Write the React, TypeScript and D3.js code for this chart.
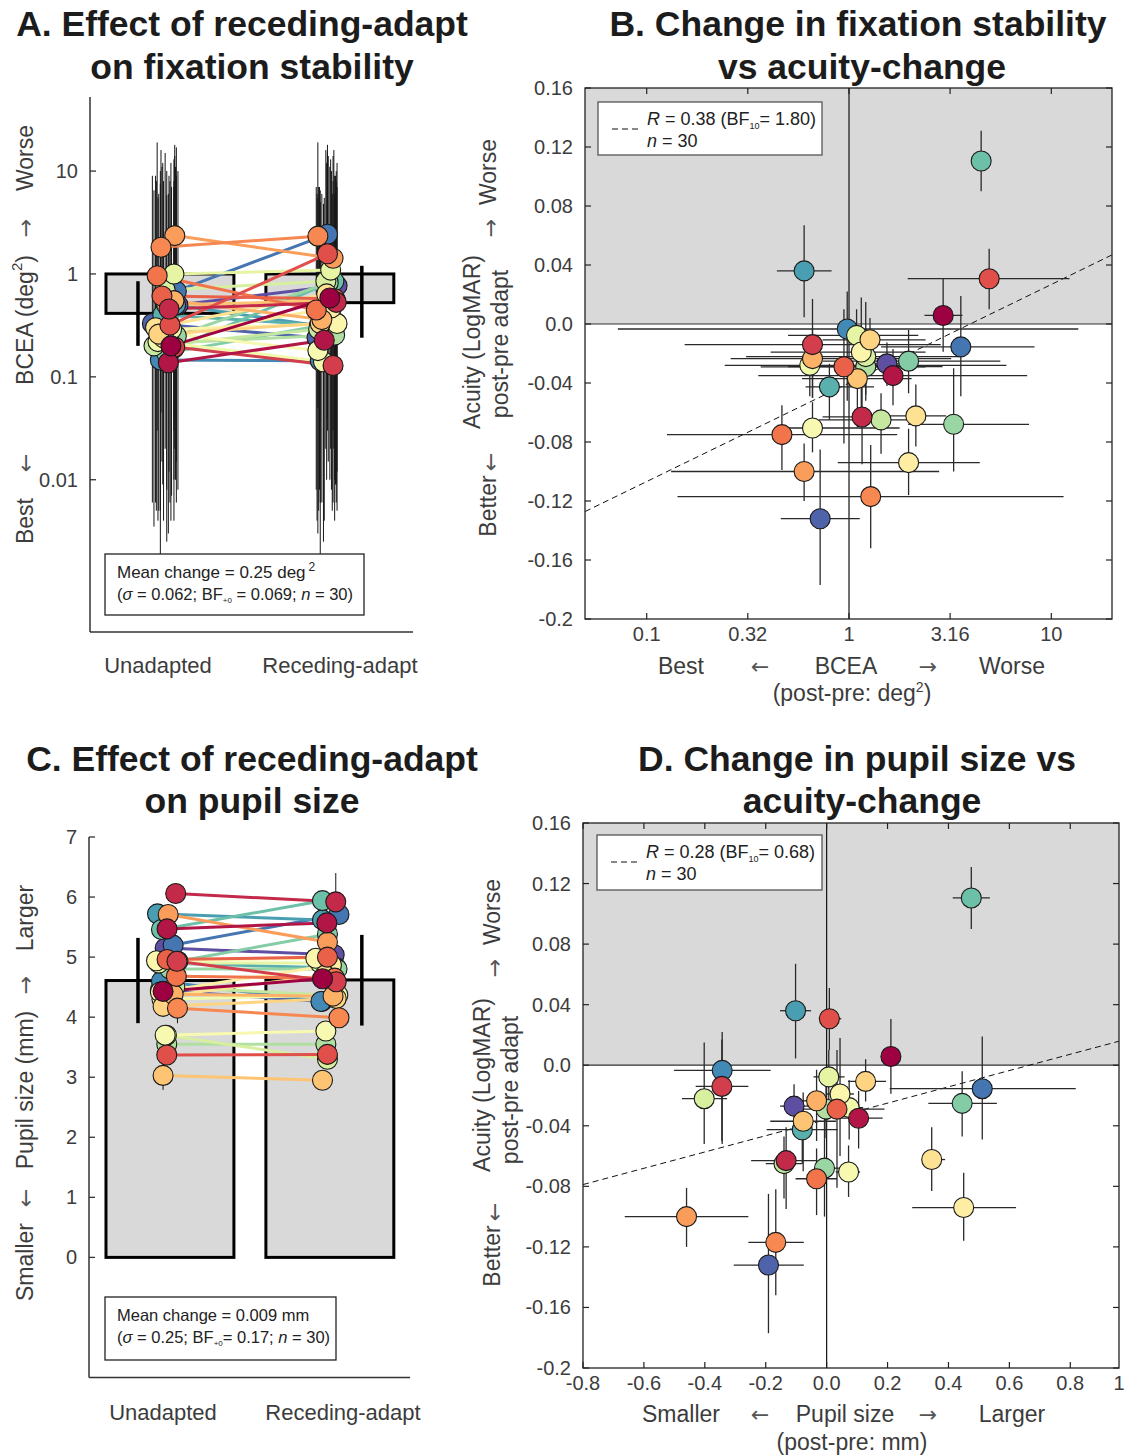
import React from 'react';
import * as d3 from 'd3';

const FONT = '"Liberation Sans", Arial, Helvetica, sans-serif';
const ARROW_FONT = '"DejaVu Sans", sans-serif';
const TXT = '#3c3c3c';
const TITLE = '#1c1c1c';

// ---------- data ----------
const conditions = ['Unadapted', 'Receding-adapt'];

// acuity change (LogMAR, post - pre), shared by panels B and D
const acuityChange = [0.0058, -0.035, -0.063, -0.014, 0.0307, -0.029, -0.075, -0.117, -0.1, -0.0235, -0.037, -0.0107, -0.0623, -0.094, -0.019, -0.0705, -0.028, -0.0077, -0.0221, -0.065, -0.0289, -0.068, -0.0252, 0.1105, -0.0426, 0.036, -0.0034, -0.0155, -0.132, -0.027];
const acuityHi = [0.0305, -0.017, -0.041, 0.017, 0.051, 0.01, -0.055, -0.082, -0.081, -0.003, -0.018, 0.004, -0.041, -0.071, 0.018, -0.053, -0.01, 0.01, 0.015, -0.047, -0.003, -0.03, -0.004, 0.131, -0.027, 0.067, 0.022, 0.019, -0.085, -0.0126];
const acuityLo = [-0.0188, -0.055, -0.095, -0.05, 0.01, -0.081, -0.099, -0.152, -0.12, -0.05, -0.07, -0.024, -0.083, -0.116, -0.06, -0.087, -0.049, -0.025, -0.052, -0.088, -0.048, -0.1, -0.047, 0.09, -0.065, 0.0045, -0.052, -0.049, -0.177, -0.042];

// BCEA change (post/pre ratio), panel B
const bceaRatio = [2.92, 1.65, 1.16, 0.66, 4.93, 0.944, 0.466, 1.28, 0.6, 0.66, 1.1, 1.27, 2.14, 1.97, 1.15, 0.66, 0.64, 1.09, 1.21, 1.44, 1.21, 3.29, 1.97, 4.5, 0.8, 0.6, 0.98, 3.57, 0.72, 1.54];
const bceaRatioLo = [2.36, 0.356, 0.74, 0.154, 1.95, 0.366, 0.126, 0.142, 0.132, 0.26, 0.586, 0.74, 1.5, 0.88, 0.41, 0.5, 0.243, 0.5, 0.31, 0.71, 0.5, 1.96, 0.74, 4.17, 0.61, 0.44, 0.072, 1.44, 0.46, 1.18];
const bceaRatioHi = [3.64, 7.6, 1.61, 2.84, 12.3, 2.39, 1.73, 11.5, 2.79, 3.2, 2.04, 2.39, 3.02, 4.43, 2.39, 1.78, 6.0, 2.2, 3.52, 2.39, 2.9, 7.76, 5.6, 4.9, 1.33, 0.82, 13.6, 8.26, 1.13, 2.04];

// pupil size change (mm), panel D
const pupilChange = [0.211, 0.105, -0.133, -0.344, 0.009, 0.034, -0.033, -0.167, -0.46, -0.033, -0.077, 0.128, 0.345, 0.45, 0.044, 0.072, 0.074, 0.007, -0.402, -0.14, -0.002, -0.007, 0.445, 0.475, -0.08, -0.102, -0.343, 0.511, -0.191, -0.107];
const pupilChangeLo = [0.2, 0.048, -0.248, -0.43, -0.023, -0.077, -0.102, -0.257, -0.663, -0.08, -0.185, 0.07, 0.315, 0.281, 0.0, 0.03, 0.03, -0.043, -0.475, -0.2, -0.04, -0.04, 0.334, 0.414, -0.197, -0.153, -0.501, 0.207, -0.305, -0.153];
const pupilChangeHi = [0.22, 0.184, -0.032, -0.257, 0.048, 0.19, 0.034, -0.075, -0.257, 0.02, 0.031, 0.195, 0.389, 0.622, 0.09, 0.11, 0.12, 0.059, -0.327, -0.08, 0.03, 0.04, 0.559, 0.536, 0.036, -0.051, -0.184, 0.818, -0.075, -0.043];

// BCEA (deg^2) per subject, panel A
const bceaUnadapted = [0.2, 0.137, 0.456, 0.195, 0.318, 0.61, 0.96, 1.82, 2.36, 0.55, 0.5, 0.26, 0.3, 0.24, 0.29, 0.27, 0.22, 1.0, 0.7, 0.2, 0.21, 0.25, 0.17, 0.19, 0.4, 0.5, 0.146, 0.68, 0.33, 0.5];
const bceaAdapted = [0.584, 0.227, 0.53, 0.129, 1.57, 0.575, 0.447, 2.33, 1.42, 0.36, 0.55, 0.33, 0.64, 0.47, 0.33, 0.18, 0.14, 1.09, 0.85, 0.29, 0.255, 0.82, 0.335, 0.85, 0.32, 0.3, 0.143, 2.43, 0.24, 0.77];
const bceaUnadaptedHi = [12, 6, 9, 14, 8, 11, 19, 16, 18, 7, 10, 6, 9, 8, 7, 10, 5.5, 13, 15, 6.5, 8, 9, 5.8, 8, 12, 11, 7.5, 17, 9, 10];
const bceaUnadaptedLo = [0.004, 0.003, 0.012, 0.02, 0.006, 0.015, 0.03, 0.045, 0.04, 0.01, 0.008, 0.005, 0.006, 0.004, 0.007, 0.005, 0.004, 0.03, 0.02, 0.0035, 0.005, 0.006, 0.0025, 0.004, 0.009, 0.01, 0.0019, 0.015, 0.006, 0.008];
const bceaAdaptedHi = [11, 5.5, 10, 8, 15, 9, 7, 19, 14, 6, 9, 6.5, 12, 10, 7, 5.5, 4.8, 13, 16, 7, 6, 14, 8, 16, 7, 6, 5, 18, 6, 12];
const bceaAdaptedLo = [0.01, 0.004, 0.009, 0.006, 0.03, 0.01, 0.008, 0.05, 0.03, 0.006, 0.009, 0.006, 0.01, 0.008, 0.005, 0.003, 0.0025, 0.02, 0.02, 0.005, 0.004, 0.015, 0.006, 0.02, 0.008, 0.005, 0.0019, 0.04, 0.004, 0.012];

// pupil size (mm) per subject, panel C
const pupilUnadapted = [4.43, 5.47, 6.06, 4.93, 3.37, 4.96, 4.68, 4.15, 5.71, 4.38, 3.03, 4.18, 4.36, 4.42, 4.94, 3.7, 4.3, 4.9, 3.7, 4.5, 3.55, 4.8, 4.93, 5.46, 4.9, 5.72, 4.6, 5.2, 4.45, 5.15];
const pupilAdapted = [4.64, 5.57, 5.92, 4.59, 3.38, 5.0, 4.65, 3.99, 5.25, 4.35, 2.95, 4.31, 4.7, 4.87, 4.98, 3.77, 4.37, 4.9, 3.3, 4.36, 3.55, 4.8, 5.38, 5.94, 4.82, 5.62, 4.26, 5.71, 4.26, 5.04];
const pupilUnadaptedErr = [0.1, 0.1, 0.12, 0.1, 0.1, 0.1, 0.1, 0.25, 0.1, 0.1, 0.24, 0.1, 0.1, 0.1, 0.1, 0.1, 0.1, 0.1, 0.1, 0.1, 0.1, 0.1, 0.1, 0.1, 0.1, 0.12, 0.1, 0.1, 0.1, 0.1];
const pupilAdaptedErr = [0.1, 0.1, 0.48, 0.1, 0.1, 0.1, 0.1, 0.1, 0.1, 0.1, 0.12, 0.1, 0.1, 0.1, 0.1, 0.1, 0.1, 0.1, 0.1, 0.1, 0.1, 0.1, 0.1, 0.15, 0.1, 0.1, 0.1, 0.1, 0.1, 0.1];

// horizontal scatter of the subject markers (category units)
const jitterAU = [0.006, -0.01, -0.006, 0.03, 0.0, -0.05, -0.08, -0.056, 0.03, 0.025, -0.02, -0.07, -0.09, -0.04, 0.01, -0.06, -0.075, 0.025, -0.03, -0.1, -0.085, 0.04, -0.02, 0.025, -0.045, 0.035, -0.06, 0.04, -0.11, 0.05];
const jitterAA = [0.0, -0.035, 0.04, 0.02, -0.015, 0.03, -0.085, -0.075, 0.02, -0.05, 0.035, -0.06, -0.02, 0.01, 0.045, -0.075, -0.04, 0.005, -0.025, -0.07, 0.03, -0.01, 0.04, 0.025, -0.065, 0.015, -0.06, -0.015, -0.08, 0.045];
const jitterCU = [-0.043, -0.018, 0.036, 0.044, -0.02, -0.018, 0.04, 0.047, -0.011, 0.02, -0.043, -0.043, 0.01, -0.06, -0.084, -0.03, -0.05, -0.07, -0.022, 0.03, -0.02, 0.0, 0.05, -0.053, -0.04, -0.078, -0.053, 0.02, -0.06, -0.03];
const jitterCA = [-0.046, -0.019, 0.037, 0.04, -0.015, -0.015, 0.03, 0.057, -0.015, 0.02, -0.046, 0.04, -0.03, 0.01, -0.088, -0.025, 0.05, -0.06, -0.015, 0.035, -0.025, 0.045, -0.015, -0.046, 0.04, -0.046, -0.056, 0.057, -0.05, 0.027];

// group summaries
const groupBcea = [0.414, 0.526];
const groupBceaLo = [0.2, 0.24];
const groupBceaHi = [0.85, 1.2];
const groupPupil = [4.61, 4.62];
const groupPupilLo = [3.9, 3.86];
const groupPupilHi = [5.32, 5.37];

// regression fits (acuity = a + b * x)
const fitB = [-0.04, 0.0668]; // x = log10(BCEA ratio)
const fitD = [-0.0358, 0.0538]; // x = pupil change

// ticks
const yTicksA = [10, 1, 0.1, 0.01];
const yTickLabelsA = ['10', '1', '0.1', '0.01'];
const yTicksC = [0, 1, 2, 3, 4, 5, 6, 7];
const yTicksAcuity = [0.16, 0.12, 0.08, 0.04, 0, -0.04, -0.08, -0.12, -0.16, -0.2];
const yTickLabelsAcuity = ['0.16', '0.12', '0.08', '0.04', '0.0', '-0.04', '-0.08', '-0.12', '-0.16', '-0.2'];
const xTicksB = [0.1, 0.316, 1, 3.16, 10];
const xTickLabelsB = ['0.1', '0.32', '1', '3.16', '10'];
const xTicksD = [-0.8, -0.6, -0.4, -0.2, 0, 0.2, 0.4, 0.6, 0.8, 1];
const xTickLabelsD = ['-0.8', '-0.6', '-0.4', '-0.2', '0.0', '0.2', '0.4', '0.6', '0.8', '1'];

const colour = (i: number) => d3.interpolateSpectral(i / 29);

const VText = ({ x, y, children, size = 23, fill = TXT }: any) => (
  <text transform={`translate(${x},${y}) rotate(-90)`} textAnchor="middle" dominantBaseline="central" fontSize={size} fill={fill}>
    {children}
  </text>
);

const VArrow = ({ x, y, ch }: any) => (
  <text transform={`translate(${x},${y}) rotate(-90)`} textAnchor="middle" dominantBaseline="central" fontSize={22} fill="#555" fontFamily={ARROW_FONT}>
    {ch}
  </text>
);

const HArrow = ({ x, y, ch }: any) => (
  <text x={x} y={y} textAnchor="middle" fontSize={22} fill="#555" fontFamily={ARROW_FONT}>{ch}</text>
);

function Scatter(props: any) {
  const { xs, ys, xv, xlo, xhi, fit, isLog, xTicks, xTickLabels, box, legendText } = props;
  const [x0, x1] = xs.range();
  const [yb, yt] = ys.range();
  const ids = d3.range(30);
  const order = ids.slice().reverse();
  const dom = xs.domain();
  const fx = (v: number) => (isLog ? Math.log10(v) : v);
  const lineY = (v: number) => fit[0] + fit[1] * fx(v);
  return (
    <g>
      <rect x={x0} y={yt} width={x1 - x0} height={ys(0) - yt} fill="#d9d9d9" />
      <line x1={x0} x2={x1} y1={ys(0)} y2={ys(0)} stroke="#333" strokeWidth={1.2} />
      <line x1={xs(isLog ? 1 : 0)} x2={xs(isLog ? 1 : 0)} y1={yt} y2={yb} stroke="#111" strokeWidth={1.2} />
      <line x1={xs(dom[0])} y1={ys(lineY(dom[0]))} x2={xs(dom[1])} y2={ys(lineY(dom[1]))} stroke="#111" strokeWidth={1} strokeDasharray="6,4" />
      {order.map((i) => (
        <g key={'e' + i} stroke="#2a2a2a" strokeWidth={1.3}>
          <line x1={xs(xlo[i])} x2={xs(xhi[i])} y1={ys(acuityChange[i])} y2={ys(acuityChange[i])} />
          <line x1={xs(xv[i])} x2={xs(xv[i])} y1={ys(acuityLo[i])} y2={ys(acuityHi[i])} />
        </g>
      ))}
      {order.map((i) => (
        <circle key={'m' + i} cx={xs(xv[i])} cy={ys(acuityChange[i])} r={10} fill={colour(i)} stroke="#1a1a1a" strokeWidth={1.1} />
      ))}
      <rect x={x0} y={yt} width={x1 - x0} height={yb - yt} fill="none" stroke="#222" strokeWidth={1.3} />
      {yTicksAcuity.map((v, k) => (
        <g key={'yt' + k}>
          <line x1={x0} x2={x0 + 6} y1={ys(v)} y2={ys(v)} stroke="#222" strokeWidth={1.2} />
          <line x1={x1} x2={x1 - 6} y1={ys(v)} y2={ys(v)} stroke="#222" strokeWidth={1.2} />
          <text x={x0 - 12} y={ys(v)} textAnchor="end" dominantBaseline="central" fontSize={20} fill={TXT}>{yTickLabelsAcuity[k]}</text>
        </g>
      ))}
      {xTicks.map((v: number, k: number) => {
        const inside = v >= dom[0] && v <= dom[1];
        const px = inside ? xs(v) : 1119;
        return (
          <g key={'xt' + k}>
            {inside && <line x1={px} x2={px} y1={yb} y2={yb - 6} stroke="#222" strokeWidth={1.2} />}
            {inside && <line x1={px} x2={px} y1={yt} y2={yt + 6} stroke="#222" strokeWidth={1.2} />}
            <text x={px} y={yb + 22} textAnchor="middle" fontSize={20} fill={TXT}>{xTickLabels[k]}</text>
          </g>
        );
      })}
      <rect x={box[0]} y={box[1]} width={box[2]} height={box[3]} fill="white" stroke="#555" strokeWidth={1.3} />
      <line x1={box[0] + 14} x2={box[0] + 40} y1={box[1] + 27} y2={box[1] + 27} stroke="#111" strokeWidth={1} strokeDasharray="6,4" />
      <text x={box[0] + 49} y={box[1] + 23} fontSize={18} fill="#222">
        <tspan fontStyle="italic">R</tspan>
        {` = ${legendText[0]} (BF`}
        <tspan fontSize={9} dy={4}>10</tspan>
        <tspan dy={-4}>{`= ${legendText[1]})`}</tspan>
      </text>
      <text x={box[0] + 49} y={box[1] + 45} fontSize={18} fill="#222">
        <tspan fontStyle="italic">n</tspan> = 30
      </text>
    </g>
  );
}

export default function App() {
  const ids = d3.range(30);
  const order = ids.slice().reverse();

  const xA = d3.scaleLinear().domain([0.5, 2.52]).range([90, 413]);
  const yA = d3.scaleLog().domain([Math.pow(10, -3.48), Math.pow(10, 1.72)]).range([632, 97]);
  const xC = d3.scaleLinear().domain([0.5, 2.52]).range([90, 413]);
  const yC = d3.scaleLinear().domain([-2, 7]).range([1377.5, 837]);
  const xB = d3.scaleLog().domain([Math.pow(10, -1.305), Math.pow(10, 1.3)]).range([585, 1112]);
  const yB = d3.scaleLinear().domain([-0.2, 0.16]).range([619, 88]);
  const xD = d3.scaleLinear().domain([-0.8, 0.96]).range([583, 1119]);
  const yD = d3.scaleLinear().domain([-0.2, 0.16]).range([1368, 823]);

  return (
    <svg width={1125} height={1456} style={{ position: 'absolute', left: 0, top: 0 }} fontFamily={FONT}>
      <rect width={1125} height={1456} fill="white" />

      {/* ---------------- titles ---------------- */}
      <g fontWeight="bold" fontSize={35.5} fill={TITLE} textAnchor="middle">
        <text x={242} y={36}>A. Effect of receding-adapt</text>
        <text x={252} y={79}>on fixation stability</text>
        <text x={858} y={36}>B. Change in fixation stability</text>
        <text x={862} y={79}>vs acuity-change</text>
        <text x={252} y={771}>C. Effect of receding-adapt</text>
        <text x={252} y={813}>on pupil size</text>
        <text x={857} y={771}>D. Change in pupil size vs</text>
        <text x={862} y={813}>acuity-change</text>
      </g>

      {/* ---------------- Panel A ---------------- */}
      <g>
        {groupBcea.map((v, k) => (
          <rect key={'ba' + k} x={xA(k + 1 - 0.4)} y={yA(1)} width={xA(k + 1.4) - xA(k + 0.6)} height={yA(v) - yA(1)} fill="#d9d9d9" stroke="#000" strokeWidth={3} />
        ))}
        {groupBcea.map((v, k) => (
          <line key={'bea' + k} x1={xA(k + 1 + (k === 0 ? -0.2 : 0.2))} x2={xA(k + 1 + (k === 0 ? -0.2 : 0.2))} y1={yA(groupBceaLo[k])} y2={yA(groupBceaHi[k])} stroke="#000" strokeWidth={3.5} />
        ))}
        {order.map((i) => (
          <g key={'ae' + i} stroke="#151515" strokeWidth={1}>
            <line x1={xA(1 + jitterAU[i])} x2={xA(1 + jitterAU[i])} y1={yA(bceaUnadaptedLo[i])} y2={yA(bceaUnadaptedHi[i])} />
            <line x1={xA(2 + jitterAA[i])} x2={xA(2 + jitterAA[i])} y1={yA(bceaAdaptedLo[i])} y2={yA(bceaAdaptedHi[i])} />
          </g>
        ))}
        {order.map((i) => (
          <line key={'al' + i} x1={xA(1 + jitterAU[i])} y1={yA(bceaUnadapted[i])} x2={xA(2 + jitterAA[i])} y2={yA(bceaAdapted[i])} stroke={colour(i)} strokeWidth={3} />
        ))}
        {order.map((i) => (
          <g key={'am' + i} stroke="#1a1a1a" strokeWidth={1.1}>
            <circle cx={xA(1 + jitterAU[i])} cy={yA(bceaUnadapted[i])} r={10} fill={colour(i)} />
            <circle cx={xA(2 + jitterAA[i])} cy={yA(bceaAdapted[i])} r={10} fill={colour(i)} />
          </g>
        ))}
        <line x1={90} x2={90} y1={97} y2={632} stroke="#333" strokeWidth={1.5} />
        <line x1={90} x2={413} y1={632} y2={632} stroke="#333" strokeWidth={1.5} />
        {yTicksA.map((v, k) => (
          <g key={'yta' + k}>
            <line x1={90} x2={96} y1={yA(v)} y2={yA(v)} stroke="#333" strokeWidth={1.3} />
            <text x={78} y={yA(v)} textAnchor="end" dominantBaseline="central" fontSize={20} fill={TXT}>{yTickLabelsA[k]}</text>
          </g>
        ))}
        {conditions.map((c, k) => (
          <text key={'ca' + k} x={k === 0 ? 158 : 340} y={673} textAnchor="middle" fontSize={22} fill={TXT}>{c}</text>
        ))}
        <rect x={105} y={554} width={259} height={61} fill="white" stroke="#222" strokeWidth={1.3} />
        <text x={117} y={578} fontSize={17} fill="#222">
          Mean change = 0.25 deg<tspan fontSize={12} dx={3} dy={-7}>2</tspan>
        </text>
        <text x={117} y={600} fontSize={16.5} fill="#222">
          (<tspan fontStyle="italic">σ</tspan> = 0.062; BF<tspan fontSize={8} dy={3}>+0</tspan>
          <tspan dy={-3}> = 0.069; </tspan>
          <tspan fontStyle="italic">n</tspan> = 30)
        </text>
        <VText x={25} y={158}>Worse</VText>
        <VArrow x={25} y={228} ch="→" />
        <text transform="translate(25,320) rotate(-90)" textAnchor="middle" dominantBaseline="central" fontSize={23} fill={TXT}>
          BCEA (deg<tspan fontSize={15} dy={-9}>2</tspan><tspan dy={9}>)</tspan>
        </text>
        <VArrow x={25} y={463} ch="←" />
        <VText x={25} y={521}>Best</VText>
      </g>

      {/* ---------------- Panel B ---------------- */}
      <Scatter xs={xB} ys={yB} xv={bceaRatio} xlo={bceaRatioLo} xhi={bceaRatioHi} fit={fitB} isLog={true}
        xTicks={xTicksB} xTickLabels={xTickLabelsB} box={[598, 102, 224, 53]} legendText={['0.38', '1.80']} />
      <g fontSize={23} fill={TXT} textAnchor="middle">
        <text x={681} y={674}>Best</text>
        <text x={846} y={674}>BCEA</text>
        <text x={1012} y={674}>Worse</text>
        <text x={852} y={701}>(post-pre: deg<tspan fontSize={14} dy={-9}>2</tspan><tspan dy={9}>)</tspan></text>
      </g>
      <HArrow x={760} y={674} ch="←" />
      <HArrow x={928} y={674} ch="→" />
      <VText x={488} y={172}>Worse</VText>
      <VArrow x={490} y={228} ch="→" />
      <VText x={472} y={342}>Acuity (LogMAR)</VText>
      <VText x={500} y={344}>post-pre adapt</VText>
      <VArrow x={490} y={462} ch="←" />
      <VText x={488} y={506}>Better</VText>

      {/* ---------------- Panel C ---------------- */}
      <g>
        {groupPupil.map((v, k) => (
          <rect key={'bc' + k} x={xC(k + 0.6)} y={yC(v)} width={xC(k + 1.4) - xC(k + 0.6)} height={yC(0) - yC(v)} fill="#d9d9d9" stroke="#000" strokeWidth={3} />
        ))}
        {groupPupil.map((v, k) => (
          <line key={'bec' + k} x1={xC(k + 1 + (k === 0 ? -0.2 : 0.2))} x2={xC(k + 1 + (k === 0 ? -0.2 : 0.2))} y1={yC(groupPupilLo[k])} y2={yC(groupPupilHi[k])} stroke="#000" strokeWidth={3.5} />
        ))}
        {order.map((i) => (
          <g key={'ce' + i} stroke="#151515" strokeWidth={1}>
            <line x1={xC(1 + jitterCU[i])} x2={xC(1 + jitterCU[i])} y1={yC(pupilUnadapted[i] - pupilUnadaptedErr[i])} y2={yC(pupilUnadapted[i] + pupilUnadaptedErr[i])} />
            <line x1={xC(2 + jitterCA[i])} x2={xC(2 + jitterCA[i])} y1={yC(pupilAdapted[i] - pupilAdaptedErr[i])} y2={yC(pupilAdapted[i] + pupilAdaptedErr[i])} />
          </g>
        ))}
        {order.map((i) => (
          <line key={'cl' + i} x1={xC(1 + jitterCU[i])} y1={yC(pupilUnadapted[i])} x2={xC(2 + jitterCA[i])} y2={yC(pupilAdapted[i])} stroke={colour(i)} strokeWidth={3} />
        ))}
        {order.map((i) => (
          <g key={'cm' + i} stroke="#1a1a1a" strokeWidth={1.1}>
            <circle cx={xC(1 + jitterCU[i])} cy={yC(pupilUnadapted[i])} r={10} fill={colour(i)} />
            <circle cx={xC(2 + jitterCA[i])} cy={yC(pupilAdapted[i])} r={10} fill={colour(i)} />
          </g>
        ))}
        <line x1={89} x2={89} y1={837} y2={1377.5} stroke="#333" strokeWidth={1.5} />
        <line x1={89} x2={410} y1={1377.5} y2={1377.5} stroke="#333" strokeWidth={1.5} />
        {yTicksC.map((v) => (
          <g key={'ytc' + v}>
            <line x1={89} x2={95} y1={yC(v)} y2={yC(v)} stroke="#333" strokeWidth={1.3} />
            <text x={77} y={yC(v)} textAnchor="end" dominantBaseline="central" fontSize={20} fill={TXT}>{v}</text>
          </g>
        ))}
        {conditions.map((c, k) => (
          <text key={'cc' + k} x={k === 0 ? 163 : 343} y={1420} textAnchor="middle" fontSize={22} fill={TXT}>{c}</text>
        ))}
        <rect x={105} y={1297} width={231} height={63} fill="white" stroke="#222" strokeWidth={1.3} />
        <text x={117} y={1321} fontSize={16.5} fill="#222">Mean change = 0.009 mm</text>
        <text x={117} y={1343} fontSize={16.5} fill="#222">
          (<tspan fontStyle="italic">σ</tspan> = 0.25; BF<tspan fontSize={8} dy={3}>+0</tspan>
          <tspan dy={-3}>= 0.17; </tspan>
          <tspan fontStyle="italic">n</tspan> = 30)
        </text>
        <VText x={25} y={918}>Larger</VText>
        <VArrow x={25} y={985} ch="→" />
        <VText x={25} y={1090}>Pupil size (mm)</VText>
        <VArrow x={25} y={1198} ch="←" />
        <VText x={25} y={1262}>Smaller</VText>
      </g>

      {/* ---------------- Panel D ---------------- */}
      <Scatter xs={xD} ys={yD} xv={pupilChange} xlo={pupilChangeLo} xhi={pupilChangeHi} fit={fitD} isLog={false}
        xTicks={xTicksD} xTickLabels={xTickLabelsD} box={[597, 835, 225, 55]} legendText={['0.28', '0.68']} />
      <g fontSize={23} fill={TXT} textAnchor="middle">
        <text x={681} y={1422}>Smaller</text>
        <text x={845} y={1422}>Pupil size</text>
        <text x={1012} y={1422}>Larger</text>
        <text x={852} y={1450}>(post-pre: mm)</text>
      </g>
      <HArrow x={760} y={1422} ch="←" />
      <HArrow x={928} y={1422} ch="→" />
      <VText x={492} y={912}>Worse</VText>
      <VArrow x={494} y={968} ch="→" />
      <VText x={482} y={1085}>Acuity (LogMAR)</VText>
      <VText x={510} y={1090}>post-pre adapt</VText>
      <VArrow x={494} y={1212} ch="←" />
      <VText x={492} y={1256}>Better</VText>
    </svg>
  );
}
